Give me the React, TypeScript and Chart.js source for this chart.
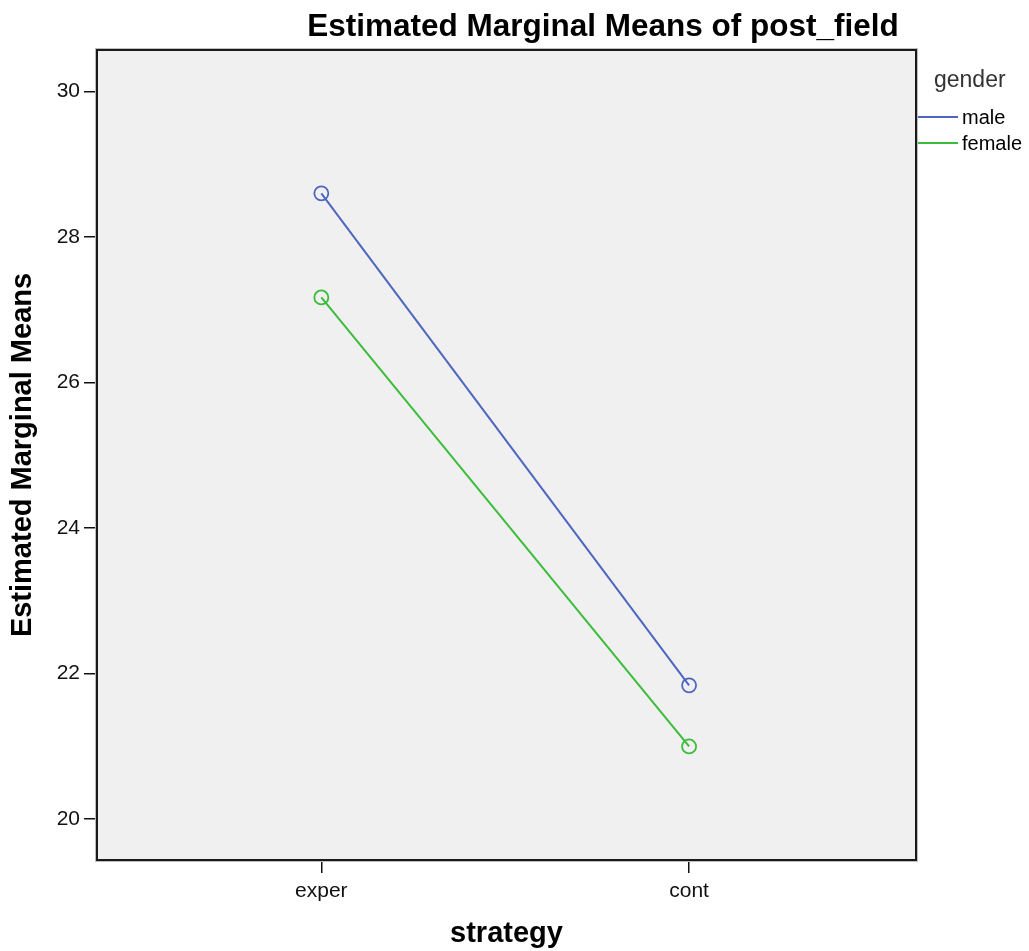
import React, { useEffect, useRef } from "react";
import { Chart, registerables } from "chart.js";

Chart.register(...registerables);

const categories = ["exper", "cont"];
const seriesNames = ["male", "female"];
const maleMeans = [28.6, 21.84];
const femaleMeans = [27.17, 21.0];
const yTickValues = [20, 22, 24, 26, 28, 30];
const seriesColors = ["#4f66c0", "#3bbd3b"];

const FONT = "'Liberation Sans', Arial, sans-serif";
const W = 1029;
const H = 951;

const decorPlugin = {
  id: "decor",
  beforeDatasetsDraw(chart: any) {
    const { ctx, chartArea } = chart;
    const { left, top, right, bottom } = chartArea;
    ctx.save();
    ctx.fillStyle = "#f0f0f0";
    ctx.fillRect(left, top, right - left, bottom - top);
    ctx.restore();
  },
  afterDatasetsDraw(chart: any) {
    const { ctx, chartArea } = chart;
    const { left, top, right, bottom } = chartArea;
    ctx.save();
    ctx.strokeStyle = "#bdbdbd";
    ctx.lineWidth = 1;
    ctx.strokeRect(left - 1.5, top - 1.5, right - left + 3, bottom - top + 3);
    ctx.strokeStyle = "#1a1a1a";
    ctx.lineWidth = 2;
    ctx.strokeRect(left, top, right - left, bottom - top);
    ctx.restore();
  },
  afterDraw(chart: any) {
    const { ctx } = chart;
    ctx.save();
    // main title
    ctx.fillStyle = "#000";
    ctx.font = `bold 31.5px ${FONT}`;
    ctx.textAlign = "center";
    ctx.textBaseline = "alphabetic";
    ctx.fillText("Estimated Marginal Means of post_field", 603, 36);
    // legend
    ctx.textAlign = "left";
    ctx.fillStyle = "#333";
    ctx.font = `23px ${FONT}`;
    ctx.fillText("gender", 934, 87);
    const rows = [117, 143];
    seriesNames.forEach((name, i) => {
      ctx.strokeStyle = seriesColors[i];
      ctx.lineWidth = 2;
      ctx.beginPath();
      ctx.moveTo(918, rows[i]);
      ctx.lineTo(958, rows[i]);
      ctx.stroke();
      ctx.fillStyle = "#000";
      ctx.font = `20px ${FONT}`;
      ctx.textBaseline = "middle";
      ctx.fillText(name, 962, rows[i] + 1);
    });
    ctx.restore();
  },
};

export default function App() {
  const canvasRef = useRef<HTMLCanvasElement | null>(null);

  useEffect(() => {
    if (!canvasRef.current) return;
    const makeData = (vals: number[]) => vals.map((v, i) => ({ x: i + 1, y: v }));
    const chart = new Chart(canvasRef.current, {
      type: "line",
      data: {
        datasets: [maleMeans, femaleMeans].map((vals, i) => ({
          label: seriesNames[i],
          data: makeData(vals),
          borderColor: seriesColors[i],
          backgroundColor: "transparent",
          borderWidth: 2,
          tension: 0,
          pointRadius: 7,
          pointBorderWidth: 1.8,
          pointBorderColor: seriesColors[i],
          pointBackgroundColor: "transparent",
        })),
      },
      plugins: [decorPlugin],
      options: {
        animation: false,
        responsive: false,
        devicePixelRatio: 1,
        layout: { padding: { left: 0, top: 50, right: W - 916, bottom: 0 } },
        plugins: {
          legend: { display: false },
          title: { display: false },
          tooltip: { enabled: false },
        },
        scales: {
          x: {
            type: "linear",
            min: 0.39,
            max: 2.617,
            afterBuildTicks: (scale: any) => {
              scale.ticks = categories.map((_, i) => ({ value: i + 1 }));
            },
            afterFit: (scale: any) => {
              scale.height = H - 860;
            },
            ticks: {
              callback: (v: any) => categories[Number(v) - 1] ?? "",
              color: "#111",
              font: { family: FONT, size: 21 },
              padding: 6,
              maxRotation: 0,
            },
            grid: {
              drawOnChartArea: false,
              drawTicks: true,
              tickLength: 13,
              color: "#111",
              lineWidth: 1.5,
            },
            border: { display: false },
            title: {
              display: true,
              text: "strategy",
              color: "#000",
              font: { family: FONT, size: 29, weight: "bold" },
              padding: { top: 0, bottom: 0 },
            },
          },
          y: {
            type: "linear",
            min: 19.44,
            max: 30.57,
            afterBuildTicks: (scale: any) => {
              scale.ticks = yTickValues.map((v) => ({ value: v }));
            },
            afterFit: (scale: any) => {
              scale.width = 97;
            },
            ticks: {
              color: "#111",
              font: { family: FONT, size: 21 },
              padding: 4,
            },
            grid: {
              drawOnChartArea: false,
              drawTicks: true,
              tickLength: 13,
              color: "#111",
              lineWidth: 1.5,
            },
            border: { display: false },
            title: {
              display: true,
              text: "Estimated Marginal Means",
              color: "#000",
              font: { family: FONT, size: 29, weight: "bold" },
              padding: { top: 5.6, bottom: 0 },
            },
          },
        },
      },
    });
    return () => chart.destroy();
  }, []);

  return (
    <div style={{ position: "fixed", left: 0, top: 0, width: W, height: H, background: "#fff" }}>
      <canvas ref={canvasRef} width={W} height={H} style={{ width: W, height: H, display: "block" }} />
    </div>
  );
}
